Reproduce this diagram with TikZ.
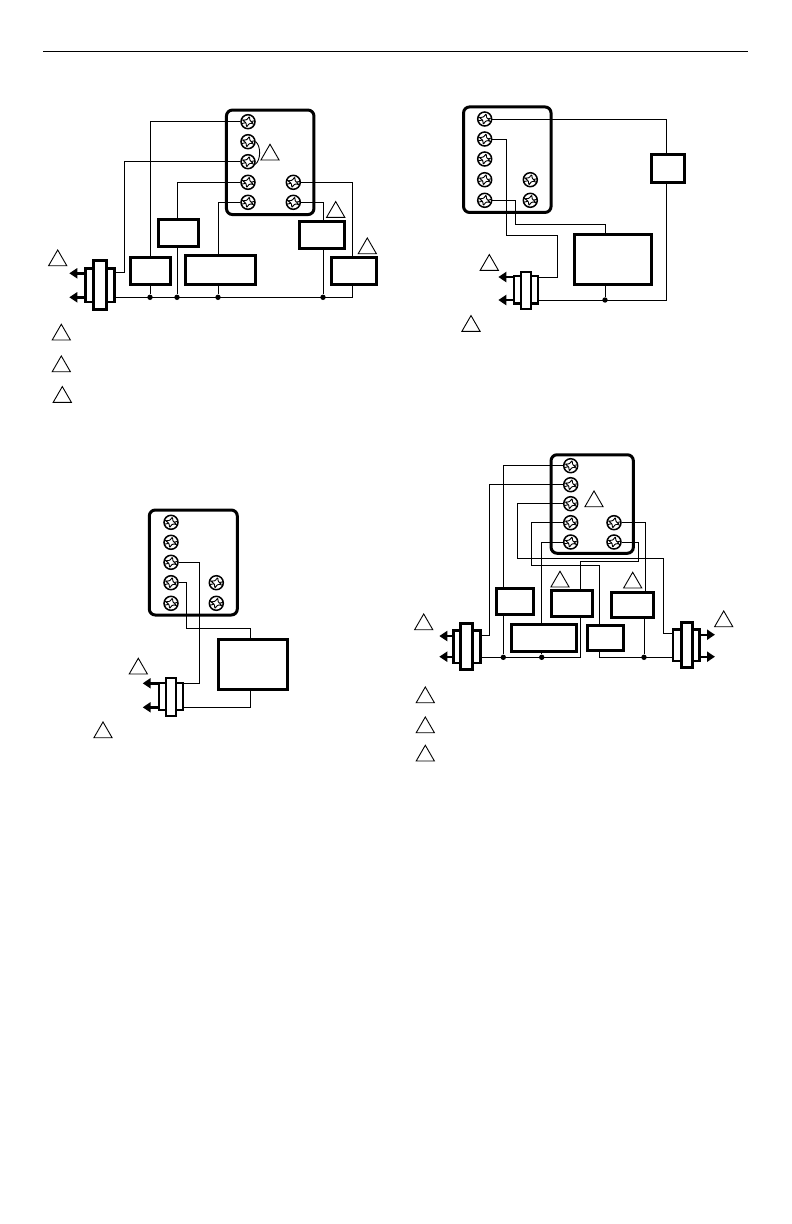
\documentclass[tikz,border=0pt]{standalone}
\usetikzlibrary{shapes.geometric,arrows.meta}

\tikzset{
  board/.style={draw,line width=3pt,rounded corners=6pt,inner sep=0pt,outer sep=0pt},
  boxed/.style={draw,fill=white,line width=3pt,inner sep=0pt,outer sep=0pt},
  wire/.style={line width=0.9pt},
  flow/.style={line width=2.4pt,-{Triangle[length=8pt,width=10pt]}},
  joint/.style={circle,fill=black,inner sep=0pt,minimum size=5.4pt},
  valvewide/.style={draw,fill=white,line width=2.3pt,inner sep=0pt,outer sep=0pt},
  valvebar/.style={draw,fill=white,line width=2.9pt,inner sep=0pt,outer sep=0pt},
  note/.style={regular polygon,regular polygon sides=3,draw,line width=0.9pt,
    minimum size=21pt,inner sep=0pt,outer sep=0pt,anchor=south},
  screw/.style={circle,draw,fill=white,line width=1.5pt,minimum size=14pt,inner sep=0pt,
    path picture={
      \begin{scope}[shift=(path picture bounding box.center),line width=0.9pt]
        \draw (-7,2) -- (7,-1);
        \draw (-7,-2) -- (-2,-1);
        \draw (2,1) -- (7,3);
        \draw[fill=white,rounded corners=0.7pt] (15:5.4) -- (60:2.3) -- (105:5.4)
          -- (150:2.3) -- (195:5.4) -- (240:2.3) -- (285:5.4) -- (330:2.3) -- cycle;
      \end{scope}
    }},
}

\begin{document}
\begin{tikzpicture}[x=1pt,y=-1pt]
\useasboundingbox (0,0) rectangle (792,1224);

\coordinate (h1) at (43,51);
\coordinate (h2) at (748,51);
\draw[line width=1pt] (h1) -- (h2);

% top left
\node[board,minimum width=87.5pt,minimum height=104.5pt] (ba) at (270.2,162.3) {};
\foreach \n/\y in {1/121.7,2/141.7,3/161.7,4/182.3,5/202.3}
  \node[screw] (a\n) at (248,\y) {};
\node[screw] (a6) at (293.3,182.3) {};
\node[screw] (a7) at (293.3,202.3) {};
\node[boxed,minimum width=40pt,minimum height=27pt] (a1box) at (178.3,233.3) {};
\node[boxed,minimum width=40pt,minimum height=26.3pt] (a2box) at (150.3,271) {};
\node[boxed,minimum width=70pt,minimum height=29pt] (a3box) at (220.7,269.7) {};
\node[boxed,minimum width=44.5pt,minimum height=27pt] (a4box) at (322,235.3) {};
\node[boxed,minimum width=45.3pt,minimum height=26.3pt] (a5box) at (353.7,271) {};
\node[valvewide,minimum width=28.8pt,minimum height=33.5pt] (av) at (100,285.3) {};
\node[valvebar,minimum width=12.2pt,minimum height=49.5pt] (avb) at (100,285) {};
\foreach \n/\x in {1/150,2/177,3/218,4/323}
  \node[joint] (aj\n) at (\x,297.3) {};
\coordinate (ak1) at (124.7,272.3);
\coordinate (ak2) at (352.7,297.3);
\coordinate (at1) at (69.3,273.3);
\coordinate (at2) at (69.3,297.3);
\draw[wire] (a1) -| (a2box.north -| aj1);
\draw[wire] (a2box.south -| aj1) -- (aj1);
\draw[wire] (a3) -| (ak1) -- (ak1 -| av.east);
\draw[wire] (a4) -| (a1box.north -| aj2);
\draw[wire] (a1box.south -| aj2) -- (aj2);
\draw[wire] (a5) -| (a3box.north -| aj3);
\draw[wire] (a3box.south -| aj3) -- (aj3);
\draw[wire] (a6) -| (a5box.north -| ak2);
\draw[wire] (a5box.south -| ak2) -- (ak2) -- (ak2 -| av.east);
\draw[wire] (a7) -| (a4box.north -| aj4);
\draw[wire] (a4box.south -| aj4) -- (aj4);
\draw[wire] (a2.east) .. controls (261,146) and (261,160) .. (a3.-20);
\draw[flow] (at1 -| av.west) -- (at1);
\draw[flow] (at2 -| av.west) -- (at2);
\node[note] (an1) at (270,160) {};
\node[note] (an2) at (335.7,217.3) {};
\node[note] (an3) at (367.3,253.7) {};
\node[note] (an4) at (57.7,265.7) {};
\node[note] (an5) at (61.3,340) {};
\node[note] (an6) at (61.3,371.7) {};
\node[note] (an7) at (62.3,402.3) {};

% top right
\node[board,minimum width=87.5pt,minimum height=105.5pt] (bb) at (507.3,159.7) {};
\foreach \n/\y in {1/119,2/139,3/159,4/179.7,5/200.3}
  \node[screw] (b\n) at (484.7,\y) {};
\node[screw] (b6) at (530.3,179.7) {};
\node[screw] (b7) at (530.3,200.3) {};
\node[boxed,minimum width=32.5pt,minimum height=28pt] (b1box) at (668,168) {};
\node[boxed,minimum width=77.5pt,minimum height=50pt] (b2box) at (613,259.2) {};
\node[valvewide,minimum width=23.5pt,minimum height=27.5pt] (bv) at (526,289.7) {};
\node[valvebar,minimum width=10pt,minimum height=37pt] (bvb) at (526,290.5) {};
\node[joint] (bj1) at (605,300) {};
\coordinate (bk1) at (666.7,300);
\coordinate (bk2) at (515.7,224.3);
\coordinate (bk3) at (506,235);
\coordinate (bk4) at (557.3,277);
\coordinate (bt1) at (498.3,277);
\coordinate (bt2) at (498.3,300);
\draw[wire] (b1) -| (b1box.north -| bk1);
\draw[wire] (b1box.south -| bk1) -- (bk1) -- (bk1 -| bv.east);
\draw[wire] (b5) -| (bk2) -| (b2box.north -| bj1);
\draw[wire] (b2box.south -| bj1) -- (bj1);
\draw[wire] (b2) -| (bk3) -| (bk4) -- (bk4 -| bv.east);
\draw[flow] (bt1 -| bv.west) -- (bt1);
\draw[flow] (bt2 -| bv.west) -- (bt2);
\node[note] (bn1) at (489.3,270.3) {};
\node[note] (bn2) at (471,331.3) {};

% bottom left
\node[board,minimum width=88pt,minimum height=105pt] (bc) at (193.3,562.5) {};
\foreach \n/\y in {1/522.3,2/542.3,3/562.3,4/582.7,5/603.3}
  \node[screw] (c\n) at (171,\y) {};
\node[screw] (c6) at (216.3,582.7) {};
\node[screw] (c7) at (216.3,603.3) {};
\node[boxed,minimum width=69pt,minimum height=50pt] (c1box) at (252.8,664.8) {};
\node[valvewide,minimum width=23.5pt,minimum height=27pt] (cv) at (171,696.2) {};
\node[valvebar,minimum width=10pt,minimum height=38pt] (cvb) at (171,697) {};
\coordinate (ck1) at (199.3,683.3);
\coordinate (ck2) at (186,628.7);
\coordinate (ck3) at (250,707.3);
\coordinate (ct1) at (142.7,683.3);
\coordinate (ct2) at (142.7,707.3);
\draw[wire] (c3) -| (ck1) -- (ck1 -| cv.east);
\draw[wire] (c4) -| (ck2) -| (c1box.north -| ck3);
\draw[wire] (c1box.south -| ck3) -- (ck3) -- (ck3 -| cv.east);
\draw[flow] (ct1 -| cv.west) -- (ct1);
\draw[flow] (ct2 -| cv.west) -- (ct2);
\node[note] (cn1) at (138.3,674) {};
\node[note] (cn2) at (103,737.7) {};

% bottom right
\node[board,minimum width=82.3pt,minimum height=98.5pt] (bd) at (592.2,504) {};
\foreach \n/\y in {1/465.7,2/484.7,3/503.7,4/522.7,5/542}
  \node[screw] (d\n) at (570.7,\y) {};
\node[screw] (d6) at (614,522.7) {};
\node[screw] (d7) at (614,542) {};
\node[boxed,minimum width=36.5pt,minimum height=25.3pt] (d1box) at (515,601.5) {};
\node[boxed,minimum width=41.3pt,minimum height=25.5pt] (d2box) at (571.7,603.3) {};
\node[boxed,minimum width=42.3pt,minimum height=24.5pt] (d3box) at (632.2,605.2) {};
\node[boxed,minimum width=65.3pt,minimum height=26.3pt] (d4box) at (543.7,638) {};
\node[boxed,minimum width=36.3pt,minimum height=24.3pt] (d5box) at (605.2,638) {};
\node[valvewide,minimum width=26.8pt,minimum height=32.5pt] (dv) at (467,646.8) {};
\node[valvebar,minimum width=11.5pt,minimum height=46pt] (dvb) at (466.3,646.8) {};
\node[valvewide,minimum width=26.5pt,minimum height=31.5pt] (ev) at (686.2,645.3) {};
\node[valvebar,minimum width=11pt,minimum height=45.5pt] (evb) at (686.7,645) {};
\foreach \n/\x in {1/503.3,2/541.7,3/644}
  \node[joint] (dj\n) at (\x,657.3) {};
\coordinate (dk1) at (489.7,635.3);
\coordinate (dk2) at (517.7,558.3);
\coordinate (dk3) at (663.3,633.7);
\coordinate (dk4) at (531.7,565.3);
\coordinate (dk5) at (599.3,657.3);
\coordinate (dk6) at (645.3,592);
\coordinate (dk7) at (638.3,561.3);
\coordinate (dk8) at (580.7,657.3);
\coordinate (dt1) at (439.3,636);
\coordinate (dt2) at (439.3,656.7);
\coordinate (dt3) at (715,634.7);
\coordinate (dt4) at (715,656.7);
\draw[wire] (d1) -| (d1box.north -| dj1);
\draw[wire] (d1box.south -| dj1) -- (dj1);
\draw[wire] (d2) -| (dk1) -- (dk1 -| dv.east);
\draw[wire] (d3) -| (dk2) -| (dk3) -- (dk3 -| ev.west);
\draw[wire] (d4) -| (dk4) -| (d5box.north -| dk5);
\draw[wire] (d5box.south -| dk5) -- (dk5) -- (dk5 -| ev.west);
\draw[wire] (d5) -| (d4box.north -| dj2);
\draw[wire] (d4box.south -| dj2) -- (dj2);
\draw[wire] (d6) -| (d3box.north -| dk6);
\draw[wire] (d3box.south -| dj3) -- (dj3);
\draw[wire] (d7) -| (dk7) -| (d2box.north -| dk8);
\draw[wire] (d2box.south -| dk8) -- (dk8) -- (dk8 -| dv.east);
\draw[flow] (dt1 -| dv.west) -- (dt1);
\draw[flow] (dt2 -| dv.west) -- (dt2);
\draw[flow] (dt3 -| ev.east) -- (dt3);
\draw[flow] (dt4 -| ev.east) -- (dt4);
\node[note] (dn1) at (594,506.7) {};
\node[note] (dn2) at (560,587) {};
\node[note] (dn3) at (632.7,588) {};
\node[note] (dn4) at (423.7,629.7) {};
\node[note] (dn5) at (723.7,626.7) {};
\node[note] (dn6) at (425.3,702.7) {};
\node[note] (dn7) at (425.3,732.7) {};
\node[note] (dn8) at (425.3,761) {};
\end{tikzpicture}
\end{document}
